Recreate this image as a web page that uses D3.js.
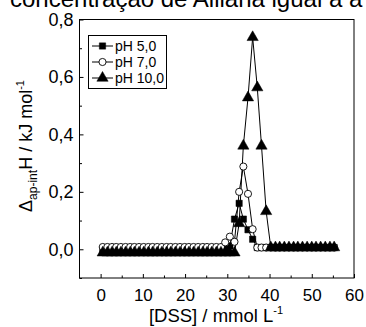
<!DOCTYPE html>
<html><head><meta charset="utf-8">
<script src="https://cdn.jsdelivr.net/npm/d3@7/dist/d3.min.js"></script>
<style>body{margin:0;background:#fff;} svg{display:block;font-family:Arial,"Liberation Sans",sans-serif;}</style>
</head><body><svg id="c" width="366" height="327"></svg>
<script>
const xValues = [0.5,1.6,2.7,3.7,4.8,5.9,7.0,8.0,9.1,10.2,11.3,12.3,13.4,14.5,15.6,16.6,17.7,18.8,19.9,20.9,22.0,23.1,24.2,25.2,26.3,27.4,28.5,29.5,30.6,31.7,32.8,33.8,34.9,36.0,37.1,38.1,39.2,40.3,41.4,42.4,43.5,44.6,45.7,46.7,47.8,48.9,50.0,51.0,52.1,53.2,54.3,55.3];
const pH5 = [-0.002,-0.002,-0.002,-0.002,-0.002,-0.002,-0.002,-0.002,-0.002,-0.002,-0.002,-0.002,-0.002,-0.002,-0.002,-0.002,-0.002,-0.002,-0.002,-0.002,-0.002,-0.002,-0.002,-0.002,-0.002,-0.002,-0.002,0.000,0.012,0.105,0.160,0.105,0.068,0.035,0.006,0.006,0.006,0.006,0.006,0.006,0.006,0.006,0.006,0.006,0.006,0.006,0.006,0.006,0.006,0.006,0.006,0.006];
const pH7 = [0.008,0.008,0.008,0.008,0.008,0.008,0.008,0.008,0.008,0.008,0.008,0.008,0.008,0.008,0.008,0.008,0.008,0.008,0.008,0.008,0.008,0.008,0.008,0.008,0.008,0.008,0.008,0.024,0.044,0.026,0.200,0.288,0.193,0.070,0.006,0.006,0.006,0.006,0.006,0.006,0.006,0.006,0.006,0.006,0.006,0.006,0.006,0.006,0.006,0.006,0.006,0.006];
const pH10 = [-0.012,-0.012,-0.012,-0.012,-0.012,-0.012,-0.012,-0.012,-0.012,-0.012,-0.012,-0.012,-0.012,-0.012,-0.012,-0.012,-0.012,-0.012,-0.012,-0.012,-0.012,-0.012,-0.012,-0.012,-0.012,-0.012,-0.012,-0.012,-0.012,-0.012,0.090,0.360,0.528,0.738,0.563,0.360,0.132,0.006,0.006,0.006,0.006,0.006,0.006,0.006,0.006,0.006,0.006,0.006,0.006,0.006,0.006,0.006];
const seriesNames = ["pH 5,0","pH 7,0","pH 10,0"];
const xMajorTicks = [0,10,20,30,40,50,60];
const xMinorTicks = [5,15,25,35,45,55];
const yMajorTicks = [0,0.2,0.4,0.6,0.8];
const yMinorTicks = [-0.1,0.1,0.3,0.5,0.7];
const titleText = "concentração de Alilana igual a a";
const xLabel = "[DSS] / mmol L";
const yLabelMain = "H / kJ mol";

const svg = d3.select("#c");
const x = d3.scaleLinear().domain([-5,60]).range([79.5,354]);
const y = d3.scaleLinear().domain([-0.1,0.8]).range([278,19.5]);
const fmt = d => d3.format(".1f")(d).replace(".",",");
const FONT = "Arial, 'Liberation Sans', sans-serif";

// cut-off caption at the top
svg.append("text").attr("x",10).attr("y",7).attr("font-size",24).attr("fill","#000").text(titleText);

// frame
svg.append("rect").attr("x",79.5).attr("y",19.5).attr("width",354-79.5).attr("height",278-19.5)
  .attr("fill","none").attr("stroke","#000").attr("stroke-width",1);

const g = svg.append("g");
const xa = g.append("g").attr("transform","translate(0,278)")
  .call(d3.axisBottom(x).tickValues(xMajorTicks).tickSizeInner(-4).tickSizeOuter(0).tickPadding(11).tickFormat(d3.format("d")));
xa.select(".domain").remove();
xa.selectAll("text").attr("font-size",17).attr("fill","#000").attr("font-family",FONT);
const xm = g.append("g").attr("transform","translate(0,278)")
  .call(d3.axisBottom(x).tickValues(xMinorTicks).tickSizeInner(-2.5).tickSizeOuter(0).tickFormat(""));
xm.select(".domain").remove();
const ya = g.append("g").attr("transform","translate(79.5,0)")
  .call(d3.axisLeft(y).tickValues(yMajorTicks).tickSizeInner(-4).tickSizeOuter(0).tickPadding(6).tickFormat(fmt));
ya.select(".domain").remove();
ya.selectAll("text").attr("font-size",18).attr("fill","#000").attr("font-family",FONT);
const ym = g.append("g").attr("transform","translate(79.5,0)")
  .call(d3.axisLeft(y).tickValues(yMinorTicks).tickSizeInner(-2.5).tickSizeOuter(0).tickFormat(""));
ym.select(".domain").remove();
svg.selectAll(".tick line").attr("stroke","#000");

// axis labels
const xl = svg.append("text").attr("x",216).attr("y",322).attr("text-anchor","middle").attr("font-size",18.5);
xl.append("tspan").text(xLabel);
xl.append("tspan").attr("dy",-8).attr("font-size",11).text("-1");

const yl = svg.append("text").attr("transform","translate(32,146) rotate(-90)").attr("text-anchor","middle").attr("font-size",18);
yl.append("tspan").text("Δ");
yl.append("tspan").attr("dy",5).attr("font-size",12).text("ap-int");
yl.append("tspan").attr("dy",-5).text(yLabelMain);
yl.append("tspan").attr("dy",-8).attr("font-size",11).text("-1");

// series
const datasets = [pH5,pH7,pH10].map(arr => arr.map((v,i)=>({x:xValues[i],y:v})));
const line = d3.line().x(d=>x(d.x)).y(d=>y(d.y));
const symbols = [d3.symbolSquare, d3.symbolCircle, d3.symbolTriangle];
const symFill = ["#000","#fff","#000"];
const symSize = [40, 40, 55];
const plot = svg.append("g");
datasets.forEach((data)=>{
  plot.append("path").datum(data).attr("d",line).attr("fill","none").attr("stroke","#000").attr("stroke-width",1);
});
datasets.forEach((data,si)=>{
  plot.selectAll(null).data(data).enter().append("path")
    .attr("d",d3.symbol().type(symbols[si]).size(symSize[si]))
    .attr("transform",d=>`translate(${x(d.x)},${y(d.y)})`)
    .attr("fill",symFill[si]).attr("stroke","#000").attr("stroke-width",si===1?0.9:0.5);
});

// legend
const lg = svg.append("g");
lg.append("rect").attr("x",88.5).attr("y",35.5).attr("width",78).attr("height",53)
  .attr("fill","#fff").attr("stroke","#000").attr("stroke-width",1);
seriesNames.forEach((n,i)=>{
  const yy = 46 + i*16;
  lg.append("line").attr("x1",92).attr("x2",113).attr("y1",yy).attr("y2",yy).attr("stroke","#000");
  lg.append("path").attr("d",d3.symbol().type(symbols[i]).size(symSize[i]))
    .attr("transform",`translate(102.5,${yy})`).attr("fill",symFill[i]).attr("stroke","#000").attr("stroke-width",i===1?0.9:0.5);
  lg.append("text").attr("x",115).attr("y",yy+5).attr("font-size",14).text(n);
});
</script></body></html>
